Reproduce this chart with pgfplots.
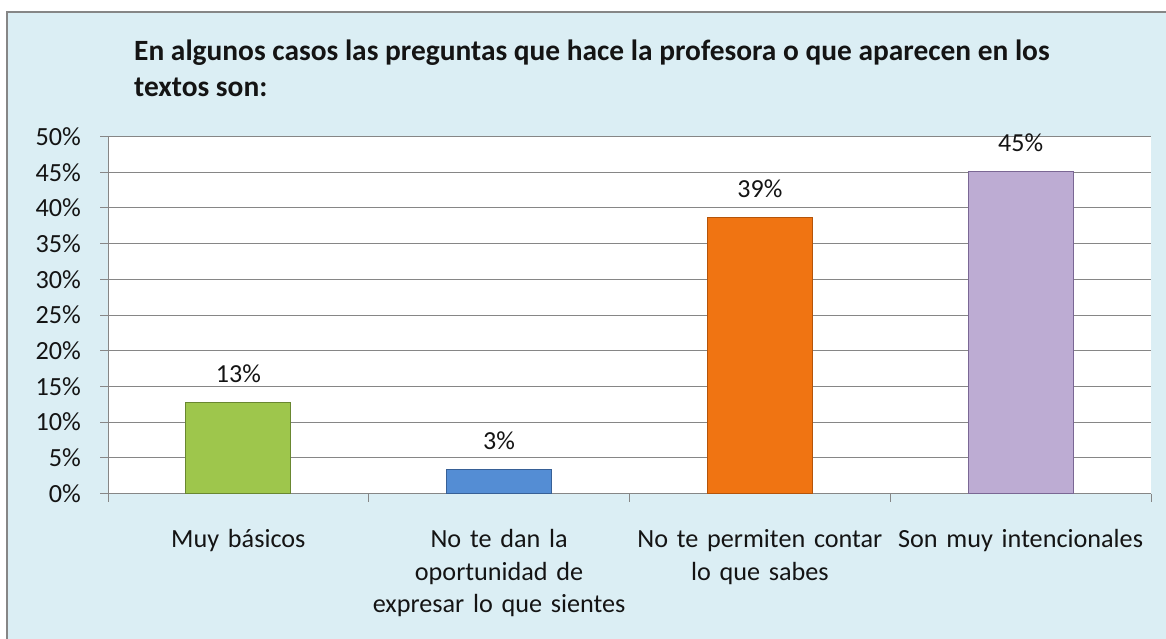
\documentclass[border=0pt]{standalone}
\usepackage{pgfplots}
\pgfplotsset{compat=1.18}
\usepackage{fontspec}
\setmainfont{Carlito}
\definecolor{bgblue}{RGB}{219,238,244}
\definecolor{gridgray}{RGB}{134,134,134}
\definecolor{barGreen}{RGB}{158,198,76}
\definecolor{barGreenD}{RGB}{105,135,48}
\definecolor{barBlue}{RGB}{84,141,212}
\definecolor{barBlueD}{RGB}{55,96,150}
\definecolor{barOrange}{RGB}{240,116,18}
\definecolor{barOrangeD}{RGB}{180,84,10}
\definecolor{barPurple}{RGB}{189,172,211}
\definecolor{barPurpleD}{RGB}{122,103,148}
\definecolor{txt}{RGB}{20,20,20}
\begin{document}
\begin{tikzpicture}
\useasboundingbox (0pt,0pt) rectangle (1166pt,638pt);
\fill[white] (0pt,0pt) rectangle (1166pt,638pt);
\filldraw[fill=bgblue, draw=gridgray, line width=1.3pt] (7pt,-5pt) rectangle (1175pt,626pt);
\node[anchor=base west, inner sep=0, text=txt, font=\fontsize{29.4}{36}\selectfont\bfseries] at (134pt,577pt) {En algunos casos las preguntas que hace la profesora o que aparecen en los};
\node[anchor=base west, inner sep=0, text=txt, font=\fontsize{29.4}{36}\selectfont\bfseries] at (134pt,541pt) {textos son:};
\begin{axis}[
  at={(108pt,144.5pt)}, anchor=south west,
  scale only axis, width=1043pt, height=357pt,
  xmin=0.5, xmax=4.5, ymin=0, ymax=50,
  axis lines*=left,
  axis line style={gridgray, line width=0.9pt},
  ymajorgrids, grid style={gridgray, line width=0.9pt},
  axis background/.style={fill=white},
  ytick={0,5,...,50},
  yticklabels={0\%,5\%,10\%,15\%,20\%,25\%,30\%,35\%,40\%,45\%,50\%},
  xtick={1,2,3,4},
  xticklabels={{Muy básicos},{No te dan la\\oportunidad de\\expresar lo que sientes},{No te permiten contar\\lo que sabes},{Son muy intencionales}},
  minor xtick={0.5,1.5,2.5,3.5,4.5},
  tick align=outside,
  major tick length=8pt, minor tick length=8pt,
  major x tick style={draw=none},
  tick style={gridgray, line width=0.9pt},
  ticklabel style={font=\fontsize{26.2}{32.5}\selectfont, text=txt},
  yticklabel style={inner sep=0pt, xshift=-19pt},
  xticklabel style={text width=290pt, align=center, anchor=north, inner sep=0pt, yshift=-28pt},
  every node near coord/.append style={font=\fontsize{26}{30}\selectfont, text=txt, anchor=base, inner sep=0pt, yshift=20pt},
  nodes near coords={\pgfmathprintnumber[fixed,precision=0,assume math mode=true]{\pgfplotspointmeta}\%},
]
\addplot[ybar, bar width=105pt, fill=barGreen, draw=barGreenD, line width=1pt] coordinates {(1,12.8)};
\addplot[ybar, bar width=105pt, fill=barBlue, draw=barBlueD, line width=1pt] coordinates {(2,3.4)};
\addplot[ybar, bar width=105pt, fill=barOrange, draw=barOrangeD, line width=1pt] coordinates {(3,38.7)};
\addplot[ybar, bar width=105pt, fill=barPurple, draw=barPurpleD, line width=1pt] coordinates {(4,45.1)};
\end{axis}
\end{tikzpicture}
\end{document}
